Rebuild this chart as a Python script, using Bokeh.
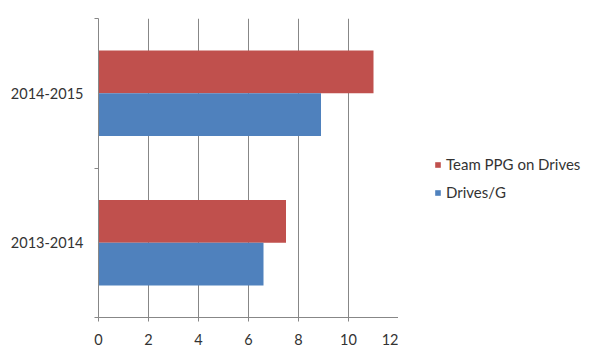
from bokeh.plotting import figure
from bokeh.layouts import row
from bokeh.models import Range1d, FixedTicker, ColumnDataSource, Legend, LegendItem
from bokeh.embed import file_html
from bokeh.resources import INLINE
import numpy as np

seasons = ["2013-2014", "2014-2015"]
team_ppg_on_drives = [7.5, 11.0]
drives_per_game = [6.6, 8.9]
series_names = ["Team PPG on Drives", "Drives/G"]
x_ticks = [0, 2, 4, 6, 8, 10, 12]

RED = "#C0504D"
BLUE = "#4F81BD"
GRID = "#878787"
TEXT = "#333333"
FONT = "Lato"

pos = np.arange(len(seasons)) + 0.5
bar_h = 1.0 / 3.5
src = ColumnDataSource(dict(
    y_red=pos + bar_h / 2, y_blue=pos - bar_h / 2,
    red=team_ppg_on_drives, blue=drives_per_game))

p = figure(width=398, height=359, output_backend="svg", toolbar_location=None,
           x_range=Range1d(0, 12), y_range=Range1d(0, len(seasons)),
           min_border_left=98, min_border_right=0, min_border_top=18,
           min_border_bottom=42)
p.outline_line_color = None
p.background_fill_color = "white"
p.border_fill_color = "white"

p.hbar(y="y_red", right="red", left=0, height=bar_h, source=src,
       fill_color=RED, line_color=None)
p.hbar(y="y_blue", right="blue", left=0, height=bar_h, source=src,
       fill_color=BLUE, line_color=None)

# x axis
p.xaxis.ticker = FixedTicker(ticks=x_ticks)
p.xaxis.axis_line_color = GRID
p.xaxis.major_tick_line_color = GRID
p.xaxis.major_tick_out = 4
p.xaxis.major_tick_in = 0
p.xaxis.minor_tick_line_color = None
p.xaxis.major_label_text_font = FONT
p.xaxis.major_label_text_font_size = "14.5px"
p.xaxis.major_label_text_color = TEXT
p.xaxis.major_label_standoff = 12

# y axis
p.yaxis.ticker = FixedTicker(ticks=list(pos), minor_ticks=list(np.arange(len(seasons) + 1)))
p.yaxis.major_label_overrides = {float(v): s for v, s in zip(pos, seasons)}
p.yaxis.axis_line_color = GRID
p.yaxis.major_tick_line_color = None
p.yaxis.major_tick_out = 0
p.yaxis.major_tick_in = 0
p.yaxis.minor_tick_line_color = GRID
p.yaxis.minor_tick_out = 4
p.yaxis.minor_tick_in = 0
p.yaxis.major_label_text_font = FONT
p.yaxis.major_label_text_font_size = "14.5px"
p.yaxis.major_label_text_color = TEXT
p.yaxis.major_label_standoff = 11

p.xgrid.grid_line_color = GRID
p.ygrid.grid_line_color = None

# legend panel (hidden copies of the series only provide the legend swatches)
lp = figure(width=202, height=359, output_backend="svg", toolbar_location=None,
            x_range=Range1d(0, 1), y_range=Range1d(0, 1),
            min_border_left=0, min_border_right=0, min_border_top=0,
            min_border_bottom=0)
lp.axis.visible = False
lp.grid.visible = False
lp.outline_line_color = None
lp.border_fill_color = "white"
lr_red = lp.hbar(y="y_red", right="red", left=0, height=bar_h, source=src,
                 fill_color=RED, line_color=None, visible=False)
lr_blue = lp.hbar(y="y_blue", right="blue", left=0, height=bar_h, source=src,
                  fill_color=BLUE, line_color=None, visible=False)

legend = Legend(items=[LegendItem(label=series_names[0], renderers=[lr_red]),
                       LegendItem(label=series_names[1], renderers=[lr_blue])],
                location=(36, 115))
legend.border_line_color = None
legend.background_fill_alpha = 0
legend.inactive_fill_alpha = 0
legend.glyph_width = 7
legend.glyph_height = 7
legend.label_height = 20
legend.spacing = 8
legend.label_standoff = 5
legend.label_text_font = FONT
legend.label_text_font_size = "15px"
legend.label_text_color = TEXT
legend.padding = 0
legend.margin = 0
lp.add_layout(legend, "center")

layout = row(p, lp)
open("out.html", "w").write(file_html(layout, INLINE))
